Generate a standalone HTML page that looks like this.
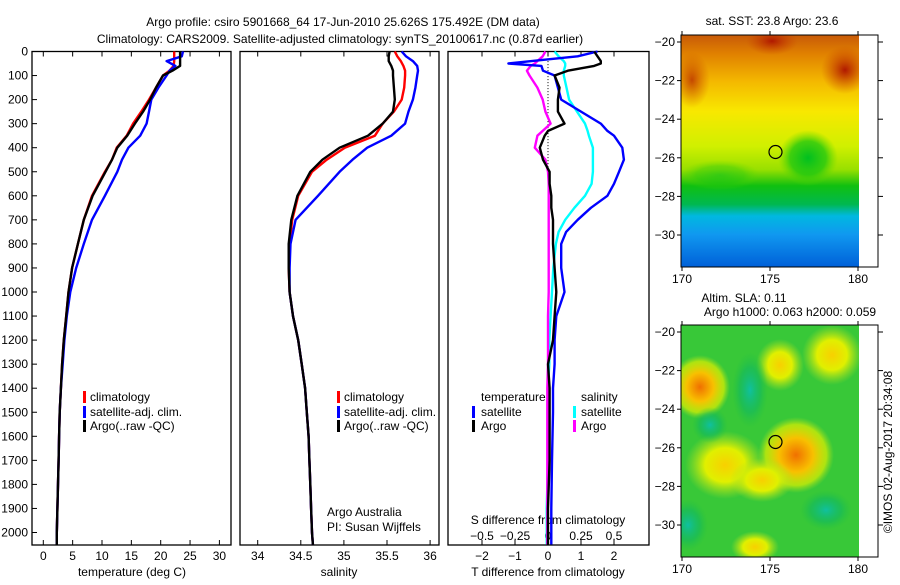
<!DOCTYPE html>
<html><head><meta charset="utf-8"><style>
body{margin:0;background:#fff;}
svg text{font-family:"Liberation Sans",sans-serif;font-size:12px;fill:#000;}
</style></head><body>
<svg id="s" width="900" height="580" viewBox="0 0 900 580" xmlns="http://www.w3.org/2000/svg">
<defs>
<linearGradient id="sst" x1="0" y1="0" x2="0" y2="1">
<stop offset="0" stop-color="#c85a08"/><stop offset="0.08" stop-color="#e08000"/><stop offset="0.2" stop-color="#f4b800"/>
<stop offset="0.33" stop-color="#f8e800"/><stop offset="0.48" stop-color="#d0f000"/><stop offset="0.58" stop-color="#98e000"/>
<stop offset="0.65" stop-color="#10c010"/><stop offset="0.73" stop-color="#00b850"/><stop offset="0.78" stop-color="#00b8e0"/>
<stop offset="0.86" stop-color="#1098f0"/><stop offset="1" stop-color="#0060d8"/></linearGradient>
<radialGradient id="rOr"><stop offset="0" stop-color="#f07000"/><stop offset="0.45" stop-color="#f8c000"/><stop offset="0.8" stop-color="#e0f000" stop-opacity="0.7"/><stop offset="1" stop-color="#a8e020" stop-opacity="0"/></radialGradient>
<radialGradient id="rYe"><stop offset="0" stop-color="#f8d000"/><stop offset="0.5" stop-color="#e0f000"/><stop offset="1" stop-color="#b0e020" stop-opacity="0"/></radialGradient>
<radialGradient id="rTe"><stop offset="0" stop-color="#10c0a0"/><stop offset="0.6" stop-color="#10b860" stop-opacity="0.6"/><stop offset="1" stop-color="#20c040" stop-opacity="0"/></radialGradient>
<radialGradient id="rDr"><stop offset="0" stop-color="#b01800"/><stop offset="1" stop-color="#c84000" stop-opacity="0"/></radialGradient>
<radialGradient id="rGr"><stop offset="0" stop-color="#00c020"/><stop offset="0.6" stop-color="#20c810" stop-opacity="0.8"/><stop offset="1" stop-color="#60d800" stop-opacity="0"/></radialGradient>
<clipPath id="c1"><rect x="681" y="35" width="178" height="232"/></clipPath>
<clipPath id="c2"><rect x="681" y="325" width="178" height="232"/></clipPath>
</defs>
<g id="plots"></g>
</svg>
<script>
// ---- data ----
const depths=[0,20,40,60,80,100,150,200,250,300,350,400,450,500,600,700,800,900,1000,1100,1200,1300,1400,1500,1600,1700,1800,1900,2000,2050];
const tempClim=[22.3,22.3,22.3,22.2,21.5,20.4,19.2,18.0,16.7,15.3,14.2,12.5,11.7,10.5,8.3,6.9,5.9,4.9,4.3,3.9,3.5,3.2,3.0,2.8,2.7,2.6,2.5,2.4,2.3,2.3];
const tempSat=[23.8,23.6,21.0,22.5,21.5,21.0,19.6,18.4,18.0,17.6,16.5,14.5,13.4,12.6,10.5,8.3,6.9,5.6,4.6,4.0,3.6,3.3,3.0,2.8,2.7,2.6,2.5,2.4,2.3,2.3];
const tempArgo=[23.3,23.3,23.3,23.3,22.0,20.4,19.2,18.2,17.0,15.6,14.3,12.6,11.7,10.6,8.4,6.9,5.9,4.9,4.3,3.9,3.5,3.2,3.0,2.8,2.7,2.6,2.5,2.4,2.3,2.3];
const salArgo=[35.53,35.52,35.52,35.55,35.57,35.57,35.58,35.59,35.57,35.45,35.28,34.95,34.75,34.61,34.46,34.39,34.36,34.36,34.37,34.41,34.47,34.51,34.55,34.57,34.59,34.60,34.61,34.62,34.63,34.64];
const salClim=[35.59,35.62,35.66,35.69,35.71,35.71,35.70,35.67,35.58,35.45,35.36,35.01,34.80,34.63,34.47,34.40,34.37,34.36,34.37,34.41,34.47,34.51,34.55,34.57,34.59,34.60,34.61,34.62,34.63,34.64];
const salSat=[35.67,35.72,35.80,35.85,35.86,35.85,35.83,35.80,35.75,35.71,35.55,35.27,35.10,34.95,34.70,34.44,34.38,34.37,34.37,34.41,34.47,34.51,34.55,34.57,34.59,34.60,34.61,34.62,34.63,34.64];
const diffDepths=[0,20,40,50,60,80,100,150,200,250,300,330,350,400,450,500,550,600,650,700,750,800,900,1000,1100,1200,1300,1400,1500,1700,1900,2050];
const dTsat=[1.5,0.9,-0.5,-1.2,-0.2,-0.15,0.2,0.3,0.4,1.0,1.6,1.8,2.0,2.25,2.3,2.15,2.0,1.8,1.3,0.9,0.55,0.4,0.4,0.5,0.25,0.2,0.2,0.15,0.15,0.12,0.1,0.1];
const dTargo=[1.4,1.5,1.6,1.6,1.4,0.6,0.2,0.35,0.3,0.3,0.5,0.0,-0.1,-0.25,-0.15,0.05,0.05,0.1,0.1,0.15,0.15,0.15,0.2,0.25,0.2,0.15,0.0,0.05,0.05,0.05,0.0,0.0];
const dSsat=[0.05,0.08,0.12,0.13,0.13,0.12,0.12,0.14,0.16,0.22,0.28,0.30,0.31,0.34,0.34,0.34,0.33,0.28,0.2,0.13,0.08,0.06,0.04,0.03,0.02,0.01,0.01,0.0,0.0,0.0,-0.01,-0.01];
const dSargo=[-0.02,-0.04,-0.08,-0.1,-0.13,-0.16,-0.14,-0.08,-0.04,-0.02,0.02,-0.04,-0.08,-0.1,-0.02,0.0,0.005,0.005,0.005,0.005,0.005,0.005,0.005,0.005,0.0,0.0,0.0,-0.005,-0.005,-0.005,-0.005,-0.005];
const depthTicks=[0,100,200,300,400,500,600,700,800,900,1000,1100,1200,1300,1400,1500,1600,1700,1800,1900,2000];
const tempTicks=[0,5,10,15,20,25,30];
const salTicks=[34,34.5,35,35.5,36];
const dTTicks=[-2,-1,0,1,2];
const dSTicks=[-0.5,-0.25,0,0.25,0.5];
const latTicks=[-20,-22,-24,-26,-28,-30];
const lonTicks=[170,175,180];

const NS='http://www.w3.org/2000/svg';
const root=document.getElementById('plots');
function el(tag,attrs,parent,txt){const e=document.createElementNS(NS,tag);for(const k in attrs)e.setAttribute(k,attrs[k]);if(txt!==undefined)e.textContent=txt;(parent||root).appendChild(e);return e;}
const TOP=51.5,BOT=545;
const yD=d=>TOP+d*0.2405;
const xT=v=>43.3+5.87*v;
const xS=v=>257.7+86.2*(v-34);
const xdT=v=>548+33*v;
const xdS=v=>548+132*v;

function frame(x0,x1,name){
  const r=el('rect',{x:x0,y:TOP,width:x1-x0,height:BOT-TOP,fill:'none',stroke:'#000','stroke-width':1.3});
  
}
function xticks(ticks,fx,labY,fmt,name){
  ticks.forEach(t=>{const x=fx(t);
    el('line',{x1:x,x2:x,y1:TOP,y2:TOP+5,stroke:'#000'});
    el('line',{x1:x,x2:x,y1:BOT,y2:BOT-5,stroke:'#000'});
    const tx=el('text',{x:x,y:labY,'text-anchor':'middle'},root,fmt?fmt(t):String(t));
    });
}
function curve(ds,vals,fx,color,name){
  const p=vals.map((v,i)=>(i?'L':'M')+fx(v).toFixed(1)+','+yD(ds[i]).toFixed(1)).join('');
  const e=el('path',{d:p,fill:'none',stroke:color,'stroke-width':2.4,'stroke-linejoin':'round'});
  
}
function txt(x,y,s,name,anchor){const t=el('text',{x:x,y:y,'text-anchor':anchor||'start'},root,s);return t;}
function legTick(x,y,color){el('rect',{x:x,y:y-10,width:3,height:12,fill:color});}

// titles
txt(343,26,'Argo profile: csiro 5901668_64 17-Jun-2010 25.626S 175.492E (DM data)','title-line-1','middle').setAttribute('font-size','13.5');
txt(340,43,'Climatology: CARS2009. Satellite-adjusted climatology: synTS_20100617.nc (0.87d earlier)','title-line-2','middle').setAttribute('font-size','13.5');

// panel 1
frame(32,231,'temperature-panel');
depthTicks.forEach(d=>{const y=yD(d);el('line',{x1:32,x2:37,y1:y,y2:y,stroke:'#000'});
  txt(28,y+4,String(d),'depth-tick-label','end');});
xticks(tempTicks,xT,560,null,'temperature-tick-label');
txt(132,576,'temperature (deg C)','temperature-axis-title','middle');
curve(depths,tempClim,xT,'#ff0000','temperature-climatology-line');
curve(depths,tempSat,xT,'#0000ff','temperature-satellite-line');
curve(depths,tempArgo,xT,'#000000','temperature-argo-line');
legTick(83,401,'#ff0000');txt(90,401,'climatology','legend-climatology');
legTick(83,416,'#0000ff');txt(90,416,'satellite-adj. clim.','legend-satellite-adj');
legTick(83,430,'#000');txt(90,430,'Argo(..raw -QC)','legend-argo');

// panel 2
frame(240,439,'salinity-panel');
xticks(salTicks,xS,560,null,'salinity-tick-label');
txt(339,576,'salinity','salinity-axis-title','middle');
curve(depths,salClim,xS,'#ff0000','salinity-climatology-line');
curve(depths,salSat,xS,'#0000ff','salinity-satellite-line');
curve(depths,salArgo,xS,'#000000','salinity-argo-line');
legTick(337,401,'#ff0000');txt(344,401,'climatology','legend-climatology');
legTick(337,416,'#0000ff');txt(344,416,'satellite-adj. clim.','legend-satellite-adj');
legTick(337,430,'#000');txt(344,430,'Argo(..raw -QC)','legend-argo');
txt(327,516,'Argo Australia','credit-argo-australia');
txt(327,531,'PI: Susan Wijffels','credit-pi');

// panel 3
frame(448,649,'difference-panel');
el('line',{x1:548,x2:548,y1:yD(40),y2:yD(600),stroke:'#000','stroke-dasharray':'1,2'});
dTTicks.forEach(t=>{const x=xdT(t);el('line',{x1:x,x2:x,y1:BOT,y2:BOT-5,stroke:'#000'});el('line',{x1:x,x2:x,y1:TOP,y2:TOP+5,stroke:'#000'});txt(x,560,String(t).replace('-','\u2212'),'t-diff-tick-label','middle');});
dSTicks.forEach(t=>{txt(xdS(t),540,String(t).replace('-','\u2212'),'s-diff-tick-label','middle');});
txt(548,524,'S difference from climatology','s-diff-axis-title','middle');
txt(548,576,'T difference from climatology','t-diff-axis-title','middle');
curve(diffDepths,dSsat,xdS,'#00ffff','salinity-satellite-diff-line');
curve(diffDepths,dSargo,xdS,'#ff00ff','salinity-argo-diff-line');
curve(diffDepths,dTsat,xdT,'#0000ff','temperature-satellite-diff-line');
curve(diffDepths,dTargo,xdT,'#000000','temperature-argo-diff-line');
txt(481,401,'temperature','legend-temperature-heading');
legTick(472,416,'#0000ff');txt(481,416,'satellite','legend-temp-satellite');
legTick(472,430,'#000');txt(481,430,'Argo','legend-temp-argo');
txt(581,401,'salinity','legend-salinity-heading');
legTick(573,416,'#00ffff');txt(581,416,'satellite','legend-sal-satellite');
legTick(573,430,'#ff00ff');txt(581,430,'Argo','legend-sal-argo');

// maps
function map(oy,kind,name,clip){
  const y0=35+oy,y1=267+oy;
  const g=el('g',{});
  const ig=el('g',{'clip-path':'url(#'+clip+')'},g);
  el('rect',{x:681,y:y0,width:178,height:232,fill:kind==='sst'?'url(#sst)':'#38c838'},ig);
  if(kind==='sst'){
    el('ellipse',{cx:772,cy:y0+6,rx:26,ry:14,fill:'url(#rDr)'},ig);
    el('ellipse',{cx:845,cy:y0+35,rx:24,ry:24,fill:'url(#rDr)'},ig);
    el('ellipse',{cx:692,cy:y0+45,rx:18,ry:28,fill:'url(#rDr)','opacity':0.7},ig);
    el('ellipse',{cx:808,cy:y0+123,rx:30,ry:28,fill:'url(#rGr)'},ig);
    el('ellipse',{cx:720,cy:y0+140,rx:40,ry:15,fill:'url(#rGr)','opacity':0.5},ig);
  } else {
    el('ellipse',{cx:700,cy:y0+62,rx:30,ry:32,fill:'url(#rOr)'},ig);
    el('ellipse',{cx:832,cy:y0+30,rx:30,ry:30,fill:'url(#rYe)'},ig);
    el('ellipse',{cx:780,cy:y0+40,rx:24,ry:26,fill:'url(#rYe)'},ig);
    el('ellipse',{cx:796,cy:y0+130,rx:38,ry:38,fill:'url(#rOr)'},ig);
    el('ellipse',{cx:725,cy:y0+140,rx:40,ry:34,fill:'url(#rYe)'},ig);
    el('ellipse',{cx:762,cy:y0+155,rx:32,ry:22,fill:'url(#rYe)'},ig);
    el('ellipse',{cx:750,cy:y0+65,rx:18,ry:38,fill:'url(#rTe)'},ig);
    el('ellipse',{cx:710,cy:y0+100,rx:18,ry:18,fill:'url(#rTe)'},ig);
    el('ellipse',{cx:826,cy:y0+185,rx:26,ry:20,fill:'url(#rTe)'},ig);
    el('ellipse',{cx:688,cy:y0+200,rx:20,ry:26,fill:'url(#rTe)'},ig);
    el('ellipse',{cx:755,cy:y0+222,rx:24,ry:16,fill:'url(#rYe)'},ig);
  }
  el('rect',{x:681,y:y0,width:197,height:232,fill:'none',stroke:'#000','stroke-width':1},g);
  latTicks.forEach(l=>{const y=42+oy+(l+20)*-19.3;
    el('line',{x1:878,x2:883,y1:y,y2:y,stroke:'#000'},g);el('line',{x1:681,x2:677,y1:y,y2:y,stroke:'#000'},g);
    const t=el('text',{x:675,y:y+4,'text-anchor':'end'},g,String(l).replace('-','\u2212'));
    });
  lonTicks.forEach(l=>{const x=682+(l-170)*17.6;
    el('line',{x1:x,x2:x,y1:y0,y2:y0-4,stroke:'#000'},g);el('line',{x1:x,x2:x,y1:y1,y2:y1+4,stroke:'#000'},g);
    const t=el('text',{x:x,y:y1+16,'text-anchor':'middle'},g,String(l));
    });
  const c=el('circle',{cx:775.5,cy:152+oy,r:6.5,fill:'none',stroke:'#000','stroke-width':1.2},g);
  
}
map(0,'sst','sst-map','c1');
txt(772,25,'sat. SST: 23.8 Argo: 23.6','sst-map-title','middle');
map(290,'sla','sla-map','c2');
txt(744,302,'Altim. SLA: 0.11','sla-map-title','middle');
txt(790,316,'Argo h1000: 0.063 h2000: 0.059','sla-map-subtitle','middle');
const v=txt(0,0,'\u00a9IMOS 02-Aug-2017 20:34:08','timestamp-label','middle');
v.setAttribute('transform','translate(892,452) rotate(-90)');
</script>
</body></html>
